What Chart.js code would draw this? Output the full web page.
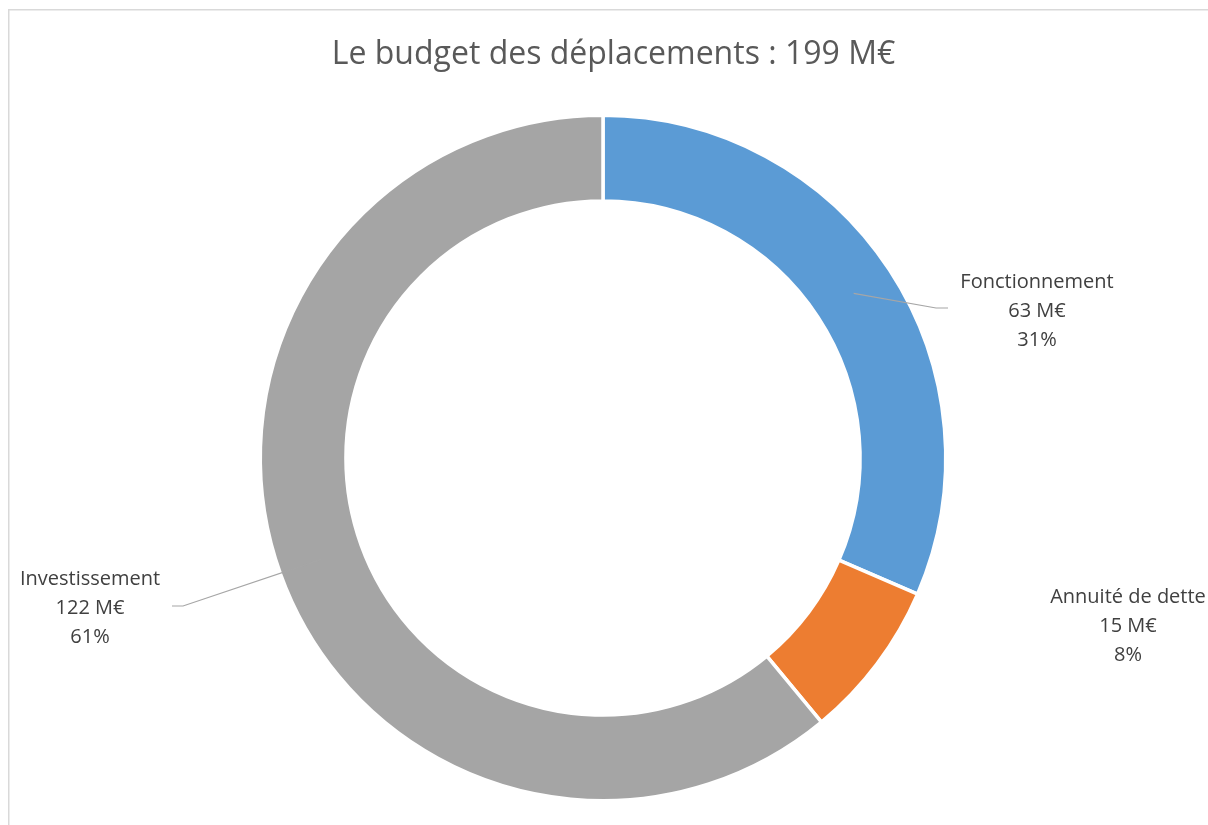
<!DOCTYPE html>
<html>
<head>
<meta charset="utf-8">
<script src="https://cdn.jsdelivr.net/npm/chart.js@4.4.0/dist/chart.umd.min.js"></script>
<style>
  body { margin: 0; background: #fff; }
  #wrap { width: 1208px; height: 825px; }
</style>
</head>
<body>
<div id="wrap"><canvas id="graph"></canvas></div>
<script>
// data
const titleText = "Le budget des déplacements : 199 M€";
const categories = ["Fonctionnement", "Annuité de dette", "Investissement"];
const amounts = [63, 15, 122];
const amountLabels = ["63 M€", "15 M€", "122 M€"];
const percentLabels = ["31%", "8%", "61%"];
const colors = ["#5B9BD5", "#ED7D31", "#A5A5A5"];

// where each label sits, relative to the doughnut centre (excel "best fit" placement)
// lead = bend of the leader line, null means no leader line
const labelPlace = [
    { dx: 434, dy: -170, lead: { dx: 333, dy: -150, end: 345 } },
    { dx: 525, dy: 145, lead: null },
    { dx: -513, dy: 127, lead: { dx: -420, dy: 148, end: -431 } }
];

const fontName = "'Open Sans', 'Noto Sans', sans-serif";

//plugin drawing the frame, the title and the data labels with leaders
const decorPlugin = {
    id: "decor",
    beforeDraw(chart) {
        const ctx = chart.ctx;
        ctx.save();
        ctx.strokeStyle = "#d9d9d9";
        ctx.lineWidth = 1.5;
        ctx.strokeRect(8.75, 9.75, 1400, 1000);
        ctx.restore();
    },
    afterDraw(chart) {
        const ctx = chart.ctx;
        const meta = chart.getDatasetMeta(0);
        ctx.save();
        // title
        ctx.fillStyle = "#595959";
        ctx.font = "32px " + fontName;
        ctx.textAlign = "center";
        ctx.textBaseline = "alphabetic";
        ctx.fillText(titleText, 613.5, 64);

        meta.data.forEach((arc, i) => {
            const p = arc.getProps(["x", "y", "startAngle", "endAngle", "innerRadius", "outerRadius"], true);
            const mid = (p.startAngle + p.endAngle) / 2;
            const r = (p.innerRadius + p.outerRadius) / 2;
            const place = labelPlace[i];
            if (place.lead) {
                ctx.strokeStyle = "#a6a6a6";
                ctx.lineWidth = 1.2;
                ctx.beginPath();
                ctx.moveTo(p.x + Math.cos(mid) * r, p.y + Math.sin(mid) * r);
                ctx.lineTo(p.x + place.lead.dx, p.y + place.lead.dy);
                ctx.lineTo(p.x + place.lead.end, p.y + place.lead.dy);
                ctx.stroke();
            }
            ctx.fillStyle = "#404040";
            ctx.font = "20px " + fontName;
            const lines = [categories[i], amountLabels[i], percentLabels[i]];
            lines.forEach((t, k) => {
                ctx.fillText(t, p.x + place.dx, p.y + place.dy + k * 29);
            });
        });
        ctx.restore();
    }
};

function drawGraph() {
    const ctx = document.getElementById("graph").getContext("2d");
    new Chart(ctx, {
        type: "doughnut",
        data: {
            labels: categories,
            datasets: [{
                data: amounts,
                backgroundColor: colors,
                borderColor: "#ffffff",
                borderWidth: 3.5,
                hoverOffset: 0
            }]
        },
        options: {
            responsive: true,
            maintainAspectRatio: false,
            animation: false,
            cutout: "75%",
            layout: {
                padding: { top: 113.5, bottom: 22.5, left: 258.5, right: 260.5 }
            },
            plugins: {
                legend: { display: false },
                title: { display: false },
                tooltip: { enabled: false }
            }
        },
        plugins: [decorPlugin]
    });
}
drawGraph();
</script>
</body>
</html>
